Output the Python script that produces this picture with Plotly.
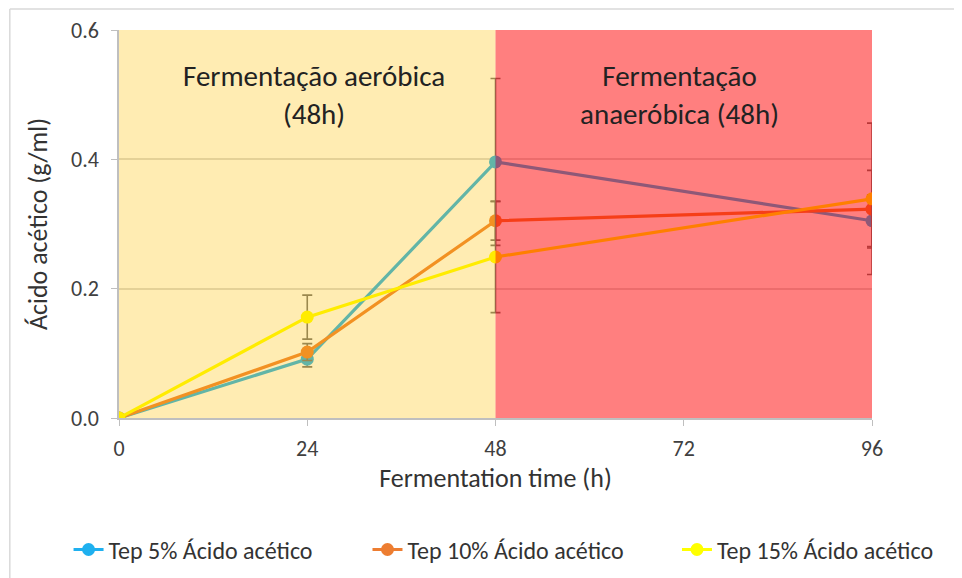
import plotly.graph_objects as go

# Fermentation time (h)
hours = [0, 24, 48, 96]

# Acetic acid (g/ml) per treatment, with error bar half-widths
tep5 = [0.0, 0.091, 0.396, 0.305]
tep5_err = [0.0, 0.012, 0.129, 0.040]
tep10 = [0.0, 0.102, 0.305, 0.323]
tep10_err = [0.0, 0.013, 0.030, 0.060]
tep15 = [0.0, 0.156, 0.249, 0.339]
tep15_err = [0.0, 0.034, 0.086, 0.117]

series_names = ["Tep 5% Ácido acético", "Tep 10% Ácido acético", "Tep 15% Ácido acético"]
y_ticks = [0.0, 0.2, 0.4, 0.6]
x_ticks = [0, 24, 48, 72, 96]

FONT = "Carlito, Calibri, Lato, sans-serif"
colors = ["#1FB0EF", "#ED7D31", "#FFFF00"]
legend_ids = ["legend", "legend2", "legend3"]
legend_x = [-0.067, 0.33, 0.741]

fig = go.Figure()
for name, ys, errs, color, lg in zip(series_names, [tep5, tep10, tep15],
                                     [tep5_err, tep10_err, tep15_err], colors, legend_ids):
    fig.add_trace(
        go.Scatter(
            x=hours,
            y=ys,
            mode="lines+markers",
            name=name,
            legend=lg,
            line=dict(width=3.2, color=color),
            marker=dict(size=13, color=color),
            error_y=dict(type="data", array=errs, visible=True, color="#707070", thickness=1.6, width=5),
        )
    )

# shaded phases drawn over the data like the original overlay
fig.add_shape(type="rect", xref="x", yref="y", x0=0, x1=48, y0=0, y1=0.6,
              fillcolor="#FFC000", opacity=0.3, line_width=0, layer="above")
fig.add_shape(type="rect", xref="x", yref="y", x0=48, x1=96, y0=0, y1=0.6,
              fillcolor="#FF0000", opacity=0.5, line_width=0, layer="above")
# outer chart border (only top and left edges show in the crop)
fig.add_shape(type="line", xref="paper", yref="paper", x0=-0.145, x1=1.2, y0=1.054, y1=1.054,
              line=dict(color="#D9D9D9", width=1.5), layer="below")
fig.add_shape(type="line", xref="paper", yref="paper", x0=-0.145, x1=-0.145, y0=-0.45, y1=1.054,
              line=dict(color="#D9D9D9", width=1.5), layer="below")

fig.add_annotation(x=24.8, y=0.5, xref="x", yref="y", text="Fermentação aeróbica<br>(48h)",
                   showarrow=False, font=dict(family=FONT, size=29, color="#222222"))
fig.add_annotation(x=71.4, y=0.5, xref="x", yref="y", text="Fermentação<br>anaeróbica (48h)",
                   showarrow=False, font=dict(family=FONT, size=29, color="#222222"))

fig.update_xaxes(
    range=[0, 96], tickvals=x_ticks, showgrid=False, zeroline=False,
    showline=True, linecolor="#BFBFBF", linewidth=1.5, ticks="outside", ticklen=6, tickcolor="#BFBFBF",
    ticklabelstandoff=4,
    title=dict(text="Fermentation time (h)", font=dict(family=FONT, size=26, color="#333333"), standoff=8),
    tickfont=dict(family=FONT, size=22, color="#404040"),
)
fig.update_yaxes(
    range=[0, 0.6], tickvals=y_ticks, tickformat=".1f", showgrid=True, gridcolor="#D9D9D9", gridwidth=1.5,
    zeroline=False, showline=True, linecolor="#BFBFBF", linewidth=1.5, ticks="outside", ticklen=6,
    tickcolor="#BFBFBF", ticklabelstandoff=8,
    title=dict(text="Ácido acético (g/ml)", font=dict(family=FONT, size=26, color="#333333"), standoff=16),
    tickfont=dict(family=FONT, size=22, color="#404040"),
)

legend_style = dict(orientation="h", y=-0.34, xanchor="left", yanchor="middle",
                    bgcolor="rgba(0,0,0,0)", font=dict(family=FONT, size=24, color="#333333"))
# the page adds an 8px body margin, so the margins are shifted to keep the plot area in place
fig.update_layout(
    width=962, height=578,
    margin=dict(l=111, r=98, t=22, b=168, autoexpand=False),
    plot_bgcolor="white", paper_bgcolor="white",
    showlegend=True,
    legend=dict(x=legend_x[0], **legend_style),
    legend2=dict(x=legend_x[1], **legend_style),
    legend3=dict(x=legend_x[2], **legend_style),
)

fig.write_html("out.html")
